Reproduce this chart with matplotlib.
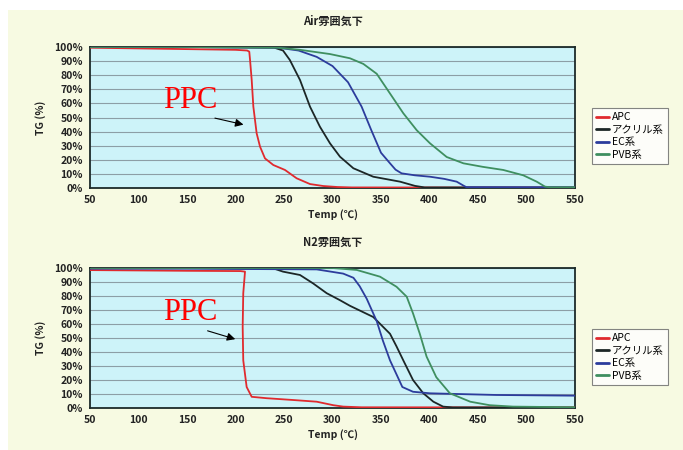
import matplotlib
matplotlib.use("Agg")
import matplotlib.pyplot as plt
from matplotlib.patches import Rectangle

plt.rcParams['font.family'] = ['Noto Sans CJK JP', 'DejaVu Sans']

# ---- Data ----
series_names = ["APC", "アクリル系", "EC系", "PVB系"]
colors = ["#e02a2e", "#1c2626", "#2c3c9c", "#3f8f60"]

# Air atmosphere
air_apc_x = [50, 100, 150, 200, 212, 214.2, 215, 216.7, 218.4, 221.8, 225.3, 230.4, 239, 251, 263, 276.8, 290.5, 305, 320, 550]
air_apc_y = [99.5, 99, 98.5, 98, 97.5, 96.7, 90.8, 76.6, 57.7, 38.8, 29.3, 21, 16.3, 12.8, 6.9, 2.8, 1.4, 0.7, 0.4, 0.3]
air_acr_x = [50, 150, 240, 249, 256, 266.5, 276.8, 287, 297.4, 307.7, 321.5, 342, 369.6, 385, 395, 550]
air_acr_y = [100, 100, 99.5, 97.5, 90.8, 76.6, 57.7, 43.5, 31.7, 22.2, 14, 8, 4.5, 1.5, 0.4, 0.3]
air_ec_x = [50, 150, 244, 265, 283.7, 300, 316, 330, 340, 350, 359.3, 365, 371.2, 385, 400.5, 415, 428, 435, 438, 550]
air_ec_y = [100, 100, 99.5, 97.5, 93, 86.5, 75, 57.7, 41, 25, 17.5, 13, 10.4, 9, 8, 6.5, 4.5, 1.7, 0.6, 0.5]
air_pvb_x = [50, 150, 244, 266.5, 297.4, 318, 331.8, 345.6, 359.3, 373, 386.8, 400.5, 417.7, 435, 455, 476, 496.7, 510.5, 519, 524, 550]
air_pvb_y = [100, 100, 99.5, 98, 95, 92, 88, 81, 67, 53, 41, 31.7, 22, 17.5, 15, 12.8, 9, 4.5, 1, 0.5, 0.5]

# N2 atmosphere
n2_apc_x = [50, 150, 205, 209.8, 208, 207.4, 208, 211.5, 216.7, 232, 259.6, 283.7, 300.8, 311, 330, 550]
n2_apc_y = [98.5, 98, 97.8, 97.4, 82, 58, 34, 15, 8, 7, 5.7, 4.5, 2, 1, 0.5, 0.4]
n2_acr_x = [50, 150, 240, 249, 266.5, 280, 294, 307.7, 318, 330, 342, 359.3, 366, 373, 383, 393.6, 404, 414, 424, 550]
n2_acr_y = [100, 100, 99.5, 97.4, 95, 89, 82, 77, 73, 69, 65, 53, 44, 34, 20, 10.5, 4.5, 1, 0.4, 0.3]
n2_ec_x = [50, 150, 283.7, 311, 321.6, 328, 335.3, 345.6, 352, 359.3, 366, 372, 383, 400.5, 469, 550]
n2_ec_y = [99.5, 99.5, 99, 96, 93, 87, 78, 62, 48, 34, 24, 15, 11.6, 10.5, 9.3, 8.8]
n2_pvb_x = [50, 150, 300, 325, 349, 366, 376.5, 383, 390, 397, 407, 421, 442, 462, 486, 550]
n2_pvb_y = [100, 100, 100, 98.6, 93.8, 86.6, 79.5, 67.6, 53, 36.7, 22, 10.5, 4.5, 2, 1, 0.5]

titles = ["Air雰囲気下", "N2雰囲気下"]
xticks = [50, 100, 150, 200, 250, 300, 350, 400, 450, 500, 550]
yticks = [0, 10, 20, 30, 40, 50, 60, 70, 80, 90, 100]
ytick_labels = [f"{v}%" for v in yticks]

air = [(air_apc_x, air_apc_y), (air_acr_x, air_acr_y), (air_ec_x, air_ec_y), (air_pvb_x, air_pvb_y)]
n2 = [(n2_apc_x, n2_apc_y), (n2_acr_x, n2_acr_y), (n2_ec_x, n2_ec_y), (n2_pvb_x, n2_pvb_y)]

W, H = 683, 450
fig = plt.figure(figsize=(W / 100, H / 100), dpi=100)
fig.patch.set_facecolor("white")
fig.patches.append(Rectangle((8 / W, 0), 1, (H - 10) / H, transform=fig.transFigure,
                             facecolor="#f7fae2", edgecolor="none", zorder=-10))

axes_px = [(90, 47, 575, 188), (90, 268, 575, 408)]
legend_px = [(592, 108), (592, 329)]
ppc_pos = [((0.206, 0.624), (0.252, 0.50), (0.322, 0.445)),
           ((0.206, 0.679), (0.237, 0.557), (0.305, 0.486))]

for i, (data, title) in enumerate(zip([air, n2], titles)):
    l, t, r, b = axes_px[i]
    ax = fig.add_axes([l / W, (H - b) / H, (r - l) / W, (b - t) / H])
    ax.set_facecolor("#cdf3f9")
    for (x, y), c, name in zip(data, colors, series_names):
        ax.plot(x, y, color=c, lw=1.3, label=name, zorder=3,
                solid_joinstyle="round", solid_capstyle="round")
    ax.set_xlim(50, 550)
    ax.set_ylim(0, 100)
    ax.set_xticks(xticks)
    ax.set_yticks(yticks)
    ax.set_yticklabels(ytick_labels)
    ax.yaxis.grid(True, color="#8c9ea6", lw=0.8)
    ax.set_axisbelow(True)
    ax.tick_params(axis="both", labelsize=7.5, length=0, pad=5, colors="#222222")
    for lab in ax.get_xticklabels() + ax.get_yticklabels():
        lab.set_fontweight("bold")
    for s in ax.spines.values():
        s.set_color("#1c2a2a")
        s.set_linewidth(1.3)
    ax.set_title(title, fontsize=8, fontweight="bold", pad=16, color="#222222")
    ax.set_xlabel("Temp (℃)", fontsize=7.5, fontweight="bold", labelpad=3, color="#222222")
    ax.set_ylabel("TG (%)", fontsize=7.5, fontweight="bold", labelpad=6, color="#222222")

    lx, ly = legend_px[i]
    leg = ax.legend(loc="upper left", bbox_to_anchor=(lx / W, (H - ly) / H),
                    bbox_transform=fig.transFigure, fontsize=7.5, frameon=True,
                    fancybox=False, handlelength=1.2, handletextpad=0.3,
                    borderpad=0.4, labelspacing=0.25, borderaxespad=0)
    leg.get_frame().set_edgecolor("#666666")
    leg.get_frame().set_facecolor("white")
    leg.get_frame().set_linewidth(0.8)
    for line in leg.get_lines():
        line.set_linewidth(2)

    (tx, ty), (ax0, ay0), (ax1, ay1) = ppc_pos[i]
    ax.text(tx, ty, "PPC", transform=ax.transAxes, fontsize=22, color="#ff0000",
            family="Liberation Serif", ha="center", va="center", zorder=5)
    ax.annotate("", xy=(ax1, ay1), xycoords="axes fraction", xytext=(ax0, ay0),
                textcoords="axes fraction",
                arrowprops=dict(arrowstyle="-|>", color="black", lw=0.8,
                                mutation_scale=12), zorder=5)

fig.savefig("out.png", dpi=100)
